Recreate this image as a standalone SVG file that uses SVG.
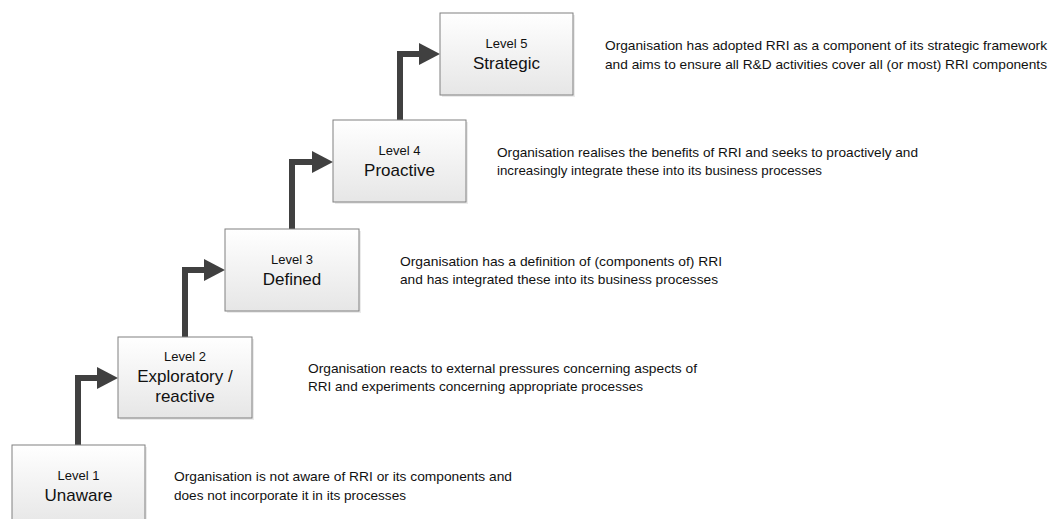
<svg xmlns="http://www.w3.org/2000/svg" width="1049" height="519" viewBox="0 0 1049 519">
<style>
.box{fill:url(#g);stroke:#808080;stroke-width:1}
.sh{fill:#ebebeb}
.lv{font-family:"Liberation Sans",Arial,sans-serif;font-size:13px;fill:#111111;text-anchor:middle}
.nm{font-family:"Liberation Sans",Arial,sans-serif;font-size:17px;fill:#111111;text-anchor:middle}
.ds{font-family:"Liberation Sans",Arial,sans-serif;font-size:13.5px;fill:#111111}
.cn{fill:none;stroke:#404040;stroke-width:6;stroke-linecap:round;stroke-linejoin:miter}
</style>
<defs>
<linearGradient id="g" x1="0" y1="0" x2="0" y2="1">
<stop offset="0" stop-color="#ffffff"/>
<stop offset="1" stop-color="#e6e6e6"/>
</linearGradient>
<marker id="ah" markerUnits="userSpaceOnUse" markerWidth="21" markerHeight="22" refX="0" refY="11" orient="auto">
<path d="M0,0 L21,11 L0,22 Z" fill="#404040"/>
</marker>
</defs>
<rect width="1049" height="519" fill="#ffffff"/>
<g id="connectors">
<path class="cn" d="M78,445 V378 H97" marker-end="url(#ah)"/>
<path class="cn" d="M185,337 V270 H204" marker-end="url(#ah)"/>
<path class="cn" d="M292,229 V162 H312" marker-end="url(#ah)"/>
<path class="cn" d="M400,120 V54 H419" marker-end="url(#ah)"/>
</g>
<g id="level1">
<rect class="sh" x="14" y="447" width="133" height="82"/>
<rect class="box" x="12" y="445" width="133" height="82"/>
<text class="lv" x="78.5" y="479.5">Level 1</text>
<text class="nm" x="78.5" y="501">Unaware</text>
</g>
<g id="level2">
<rect class="sh" x="120" y="339" width="134" height="81"/>
<rect class="box" x="118" y="337" width="134" height="81"/>
<text class="lv" x="185" y="360.5">Level 2</text>
<text class="nm" x="185" y="382">Exploratory /</text>
<text class="nm" x="185" y="402">reactive</text>
</g>
<g id="level3">
<rect class="sh" x="227" y="231" width="134" height="82"/>
<rect class="box" x="225" y="229" width="134" height="82"/>
<text class="lv" x="292" y="263.5">Level 3</text>
<text class="nm" x="292" y="285">Defined</text>
</g>
<g id="level4">
<rect class="sh" x="335" y="122" width="133" height="82"/>
<rect class="box" x="333" y="120" width="133" height="82"/>
<text class="lv" x="399.5" y="154.5">Level 4</text>
<text class="nm" x="399.5" y="176">Proactive</text>
</g>
<g id="level5">
<rect class="sh" x="442" y="15" width="133" height="82"/>
<rect class="box" x="440" y="13" width="133" height="82"/>
<text class="lv" x="506.5" y="47.5">Level 5</text>
<text class="nm" x="506.5" y="69">Strategic</text>
</g>
<g id="desc1">
<text class="ds" x="174" y="481" textLength="338" lengthAdjust="spacingAndGlyphs">Organisation is not aware of RRI or its components and</text>
<text class="ds" x="174" y="499.5" textLength="232" lengthAdjust="spacingAndGlyphs">does not incorporate it in its processes</text>
</g>
<g id="desc2">
<text class="ds" x="308" y="372.5" textLength="389" lengthAdjust="spacingAndGlyphs">Organisation reacts to external pressures concerning aspects of</text>
<text class="ds" x="308" y="391" textLength="335" lengthAdjust="spacingAndGlyphs">RRI and experiments concerning appropriate processes</text>
</g>
<g id="desc3">
<text class="ds" x="400" y="265.5" textLength="322" lengthAdjust="spacingAndGlyphs">Organisation has a definition of (components of) RRI</text>
<text class="ds" x="400" y="284" textLength="318" lengthAdjust="spacingAndGlyphs">and has integrated these into its business processes</text>
</g>
<g id="desc4">
<text class="ds" x="497" y="156.5" textLength="421" lengthAdjust="spacingAndGlyphs">Organisation realises the benefits of RRI and seeks to proactively and</text>
<text class="ds" x="497" y="175" textLength="325" lengthAdjust="spacingAndGlyphs">increasingly integrate these into its business processes</text>
</g>
<g id="desc5">
<text class="ds" x="605" y="50" textLength="442" lengthAdjust="spacingAndGlyphs">Organisation has adopted RRI as a component of its strategic framework</text>
<text class="ds" x="605" y="68.5" textLength="442" lengthAdjust="spacingAndGlyphs">and aims to ensure all R&amp;D activities cover all (or most) RRI components</text>
</g>
</svg>
